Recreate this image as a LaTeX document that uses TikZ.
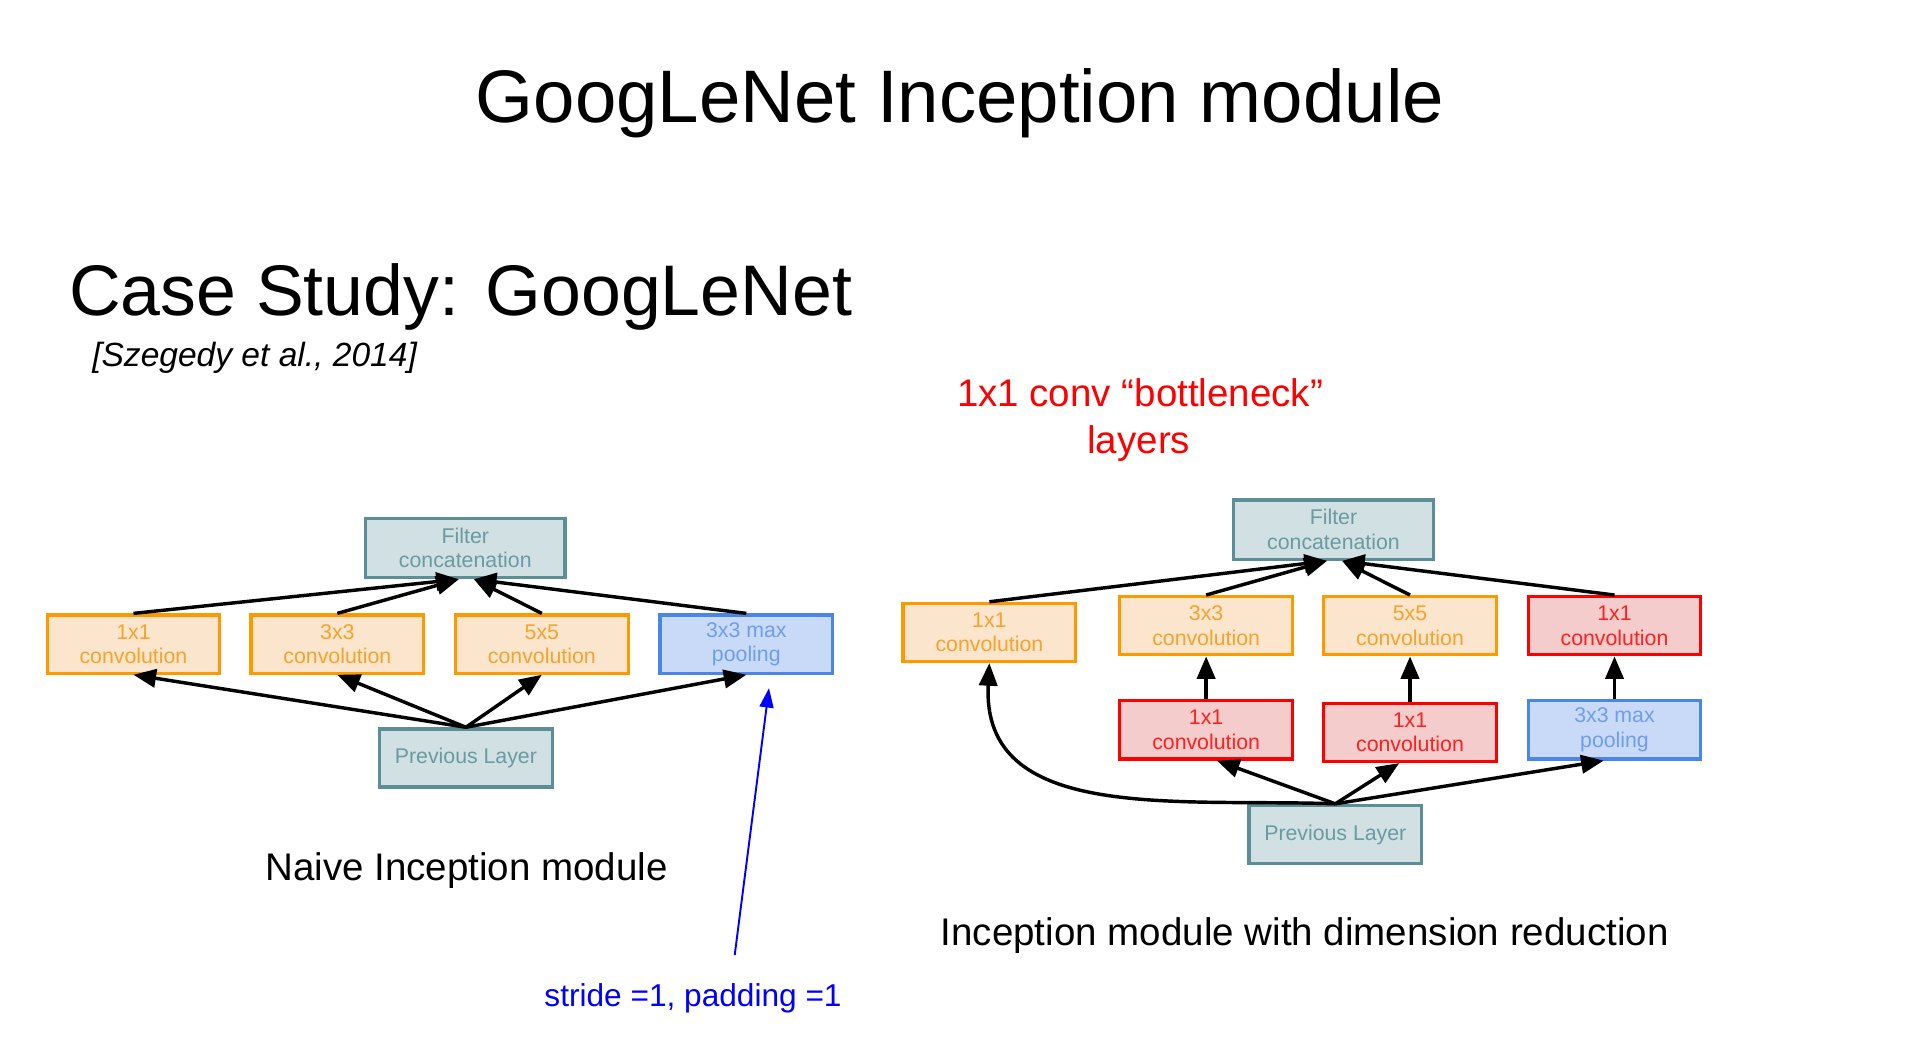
\documentclass[tikz,border=0pt]{standalone}
\usepackage{fontspec}
\setmainfont{Liberation Sans}
\usetikzlibrary{positioning,arrows.meta}

\definecolor{tealline}{HTML}{5B8E96}
\definecolor{tealfill}{HTML}{D0E0E3}
\definecolor{tealtext}{HTML}{6A9AA2}
\definecolor{orline}{HTML}{FF9900}
\definecolor{orfill}{HTML}{FCE5CD}
\definecolor{ortext}{HTML}{F6A32B}
\definecolor{redline}{HTML}{FF0000}
\definecolor{redfill}{HTML}{F4CCCC}
\definecolor{redtext}{HTML}{FF2020}
\definecolor{blueline}{HTML}{4A86E8}
\definecolor{bluefill}{HTML}{C9DAF8}
\definecolor{bluetext}{HTML}{6D9EEB}
\definecolor{notecol}{HTML}{0000FF}

\begin{document}
\begin{tikzpicture}[
  x=0.02cm, y=-0.02cm,
  node distance=0.7cm,
  box/.style={rectangle, draw, line width=1.5pt, minimum width=2.82cm,
              minimum height=0.95cm, inner sep=1pt, align=center,
              font=\fontsize{9.9}{11.4}\selectfont},
  layer/.style={box, draw=tealline, fill=tealfill, text=tealtext},
  concat/.style={layer, minimum width=3.26cm, minimum height=0.97cm},
  conv/.style={box, draw=orline, fill=orfill, text=ortext},
  reduce/.style={box, draw=redline, fill=redfill, text=redtext},
  pool/.style={box, draw=blueline, fill=bluefill, text=bluetext},
  flow/.style={-{Triangle[length=10.5pt, width=8.5pt]}, line width=1.6pt},
  caption/.style={anchor=base, font=\fontsize{17.9}{21.6}\selectfont}
]
\useasboundingbox (0,0) rectangle (1568,861);

% ====== HEADINGS ======
\node[anchor=base, font=\fontsize{34.6}{40}\selectfont] (title) at (784,100) {GoogLeNet Inception module};
\node[anchor=base west, inner sep=0pt, font=\fontsize{33.3}{38}\selectfont] (case) at (56,258) {Case Study: GoogLeNet};
\node[anchor=base west, inner sep=0pt, font=\fontsize{15.6}{18}\selectfont\itshape] (cite) at (75,299) {[Szegedy et al., 2014]};
\node[caption, text=red] (bneck1) at (931,332) {1x1 conv “bottleneck”};
\node[caption, text=red] (bneck2) at (930,370) {layers};

% ====== LEFT: NAIVE MODULE ======
\node[concat] (cat1) at (380,447.5) {Filter\\concatenation};
\node[conv] (a1) at (109,526) {1x1\\convolution};
\node[conv] (a3) at (275.5,526) {3x3\\convolution};
\node[conv] (a5) at (442.5,526) {5x5\\convolution};
\node[pool] (apool) at (609.5,526) {3x3 max\\pooling};
\node[layer] (prev1) at (380.5,619) {Previous Layer};

% branches into the concatenation
\draw[flow] (a1.north) -- ([xshift=-3pt]cat1.south);
\draw[flow] (a3.north) -- ([xshift=-3pt]cat1.south);
\draw[flow] (a5.north) -- ([xshift=4pt]cat1.south);
\draw[flow] (apool.north) -- ([xshift=4pt]cat1.south);

% previous layer into every branch
\draw[flow] (prev1.north) -- (a1.south);
\draw[flow] (prev1.north) -- (a3.south);
\draw[flow] (prev1.north) -- (a5.south);
\draw[flow] (prev1.north) -- (apool.south);

\node[caption] (naive) at (381,719) {Naive Inception module};

% note on the pooling branch
\node[anchor=base, text=notecol, font=\fontsize{14.7}{17}\selectfont] (note) at (566,822) {stride =1, padding =1};
\coordinate (noteTail) at (600,780);
\coordinate (poolTip) at (628,562);
\draw[-{Triangle[length=9pt, width=6.5pt]}, line width=0.9pt, notecol] (noteTail) -- (poolTip);

% ====== RIGHT: WITH DIMENSION REDUCTION ======
\node[concat] (cat2) at (1089,432.5) {Filter\\concatenation};
\node[conv] (b1) at (808,516.5) {1x1\\convolution};
\node[conv] (b3) at (985,511) {3x3\\convolution};
\node[conv] (b5) at (1151.5,511) {5x5\\convolution};
\node[reduce] (bpoolred) at (1318.5,511) {1x1\\convolution};
\node[reduce, below=of b3] (b3red) {1x1\\convolution};
\node[reduce, below=0.74cm of b5] (b5red) {1x1\\convolution};
\node[pool, below=of bpoolred] (bpool) {3x3 max\\pooling};
\node[layer] (prev2) at (1090.5,681.5) {Previous Layer};

% branches into the concatenation
\draw[flow] (b1.north) -- ([xshift=-3pt]cat2.south);
\draw[flow] (b3.north) -- ([xshift=-3pt]cat2.south);
\draw[flow] (b5.north) -- ([xshift=4pt]cat2.south);
\draw[flow] (bpoolred.north) -- ([xshift=4pt]cat2.south);

% bottleneck layers
\draw[flow] (b3red.north) -- (b3.south);
\draw[flow] (b5red.north) -- (b5.south);
\draw[flow] (bpool.north) -- (bpoolred.south);

% previous layer into the branches
\draw[flow] (prev2.north) to[out=178, in=-93, looseness=1.1] (b1.south);
\draw[flow] (prev2.north) -- ([xshift=5pt]b3red.south);
\draw[flow] (prev2.north) -- ([xshift=-5pt]b5red.south);
\draw[flow] (prev2.north) -- ([xshift=-5pt]bpool.south);

\node[caption] (dimred) at (1065.5,772) {Inception module with dimension reduction};

\end{tikzpicture}
\end{document}
